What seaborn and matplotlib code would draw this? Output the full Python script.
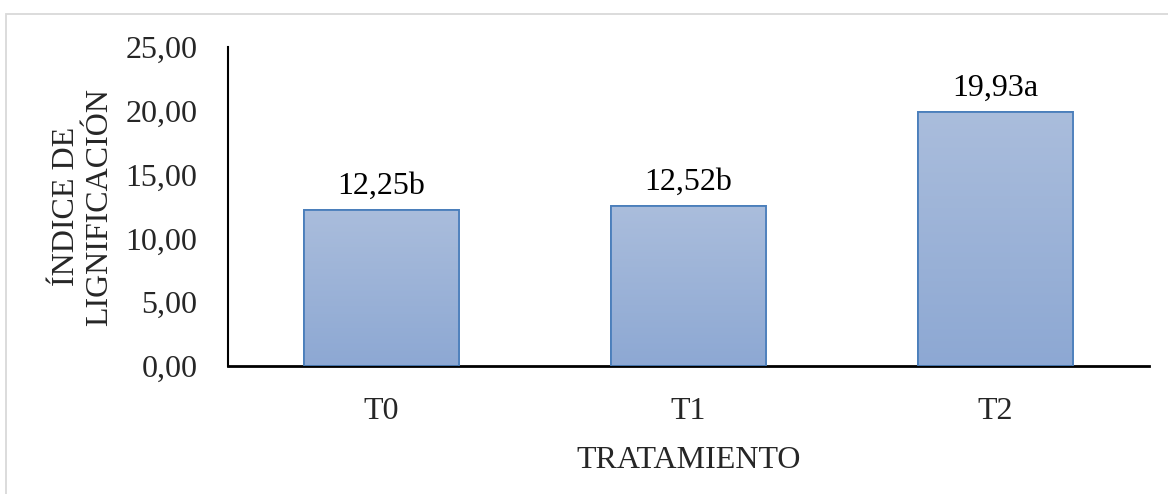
import numpy as np
import pandas as pd
import matplotlib
matplotlib.use("Agg")
import matplotlib.pyplot as plt
from matplotlib.patches import Rectangle
from matplotlib.colors import LinearSegmentedColormap
import seaborn as sns

# Data
tratamientos = ["T0", "T1", "T2"]
indice = [12.25, 12.52, 19.93]
letras = ["b", "b", "a"]
y_ticks = [0, 5, 10, 15, 20, 25]

df = pd.DataFrame({"Tratamiento": tratamientos, "Indice": indice})

sns.set_theme(style="white")
plt.rcParams["font.family"] = ["Liberation Serif", "DejaVu Serif"]

FS = 23
W, H = 1168, 494
fig = plt.figure(figsize=(W / 100, H / 100), dpi=100)
ax = fig.add_axes([228 / W, 1 - 366 / H, (1149 - 228) / W, (366 - 47) / H])

sns.barplot(data=df, x="Tratamiento", y="Indice", ax=ax, width=0.505,
            color="#A0B4D6", edgecolor="#4A7EBB", linewidth=1.3, zorder=2)

# vertical gradient fill inside each bar
cmap = LinearSegmentedColormap.from_list("grad", ["#8DA8D3", "#AABDDC"])
grad = np.linspace(0, 1, 256).reshape(-1, 1)
for p in ax.patches:
    x0, y0 = p.get_x(), p.get_y()
    w, h = p.get_width(), p.get_height()
    im = ax.imshow(grad, cmap=cmap, origin="lower", aspect="auto",
                   extent=[x0, x0 + w, y0, y0 + h], zorder=2.5)
    im.set_clip_path(p)
    edge = Rectangle((x0, y0), w, h, fill=False, edgecolor="#4A7EBB",
                     linewidth=1.3, zorder=3)
    ax.add_patch(edge)

ax.set_xlim(-0.5, 2.5)
ax.set_ylim(0, 25)
ax.set_yticks(y_ticks)
ax.set_yticklabels([f"{v:.2f}".replace(".", ",") for v in y_ticks], fontsize=FS)
ax.tick_params(axis="x", labelsize=FS, pad=22, length=0)
ax.tick_params(axis="y", pad=22, length=0)

for i, (v, l) in enumerate(zip(indice, letras)):
    ax.text(i, v + 1.25, f"{v:.2f}".replace(".", ",") + l, ha="center",
            va="baseline", fontsize=FS, color="black")

ax.set_xlabel("TRATAMIENTO", fontsize=FS, labelpad=15)
ax.set_ylabel("ÍNDICE DE\nLIGNIFICACIÓN", fontsize=FS, labelpad=8,
              linespacing=1.2)

for s in ["top", "right"]:
    ax.spines[s].set_visible(False)
ax.spines["left"].set_color("black")
ax.spines["left"].set_linewidth(1.5)
ax.spines["bottom"].set_color("black")
ax.spines["bottom"].set_linewidth(2.0)
ax.set_facecolor("white")

# outer chart frame
fig.patches.append(Rectangle((6 / W, -0.1), 1.2, 1 - 14 / H + 0.1,
                             transform=fig.transFigure, fill=False,
                             edgecolor="#D9D9D9", linewidth=1.3))

fig.savefig("out.png", dpi=100, facecolor="white")
